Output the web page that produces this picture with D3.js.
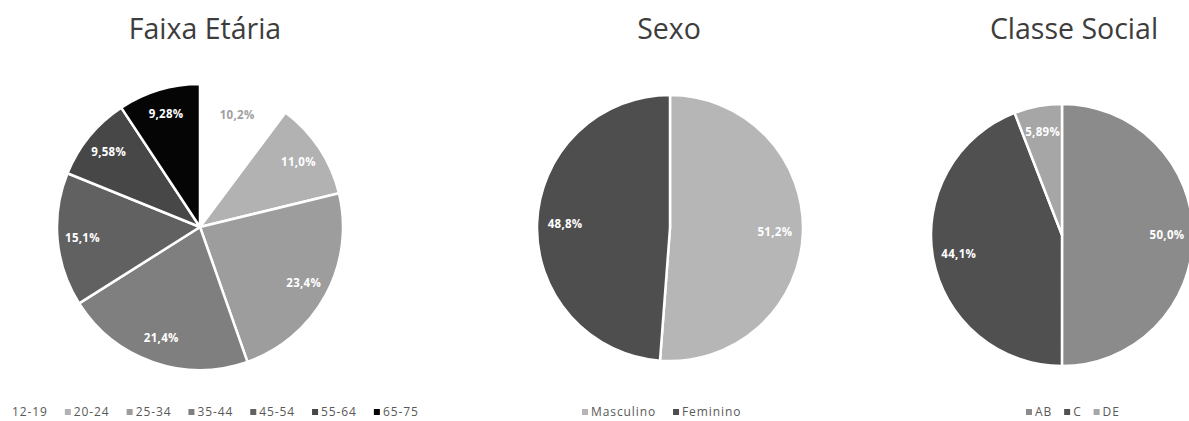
<!DOCTYPE html>
<html>
<head>
<meta charset="utf-8">
<script src="https://cdn.jsdelivr.net/npm/d3@7"></script>
<style>
  html, body { margin: 0; padding: 0; background: #fff; }
  svg { display: block; }
</style>
</head>
<body>
<svg id="chart" width="1189" height="421"></svg>
<script>
// ---- Data ----
const faixaCategories = ["12-19", "20-24", "25-34", "35-44", "45-54", "55-64", "65-75"];
const faixaValues = [10.2, 11.0, 23.4, 21.4, 15.1, 9.58, 9.28];
const faixaColors = ["#ffffff", "#b2b2b2", "#9d9d9d", "#7f7f7f", "#616161", "#474747", "#050505"];

const sexoCategories = ["Masculino", "Feminino"];
const sexoValues = [51.2, 48.8];
const sexoColors = ["#b6b6b6", "#4e4e4e"];

const classeCategories = ["AB", "C", "DE"];
const classeValues = [50.0, 44.1, 5.89];
const classeColors = ["#8b8b8b", "#505050", "#a6a6a6"];

const titles = ["Faixa Etária", "Sexo", "Classe Social"];

// ---- Drawing ----
const svg = d3.select("#chart");
const locale = d3.formatLocale({ decimal: ",", thousands: ".", grouping: [3], currency: ["", ""] });
const fmt = v => locale.format(".3r")(v) + "%";

function drawPie(opts) {
  const { cx, cy, r, values, colors, categories, title, titleX, legendX, legendGap, labelR, labelColors } = opts;
  const g = svg.append("g");

  g.append("text")
    .attr("x", titleX).attr("y", 39)
    .attr("text-anchor", "middle")
    .attr("font-family", "'Open Sans', sans-serif")
    .attr("font-size", 28.5)
    .attr("fill", "#3d3d3d")
    .text(title);

  const pie = d3.pie().sort(null).value(d => d)(values);
  const arc = d3.arc().innerRadius(0).outerRadius(r);
  const labelArc = d3.arc().innerRadius(labelR).outerRadius(labelR);

  const pg = g.append("g").attr("transform", `translate(${cx},${cy})`);
  pg.selectAll("path").data(pie).join("path")
    .attr("d", arc)
    .attr("fill", (d, i) => colors[i])
    .attr("stroke", "#fff")
    .attr("stroke-width", 2.5)
    .attr("stroke-linejoin", "round");

  pg.selectAll("text").data(pie).join("text")
    .attr("transform", d => `translate(${labelArc.centroid(d)})`)
    .attr("text-anchor", "middle")
    .attr("dy", "0.35em")
    .attr("font-family", "'Open Sans', sans-serif")
    .attr("font-weight", 700)
    .attr("font-size", 11.5)
    .attr("letter-spacing", 0.3)
    .attr("fill", (d, i) => labelColors ? labelColors[i] : "#fff")
    .text(d => fmt(d.data));

  // legend
  const lg = g.append("g").attr("transform", `translate(${legendX},412)`);
  let x = 0;
  categories.forEach((c, i) => {
    const item = lg.append("g").attr("transform", `translate(${x},0)`);
    item.append("rect")
      .attr("x", 0).attr("y", -3).attr("width", 6).attr("height", 6)
      .attr("fill", colors[i]);
    const t = item.append("text")
      .attr("x", 9).attr("y", 0).attr("dy", "0.35em")
      .attr("font-family", "'Open Sans', sans-serif")
      .attr("font-size", 12)
      .attr("letter-spacing", 0.9)
      .attr("fill", "#595959")
      .text(c);
    x += 9 + t.node().getComputedTextLength() + legendGap;
  });
}

drawPie({
  cx: 200, cy: 227, r: 143,
  values: faixaValues, colors: faixaColors, categories: faixaCategories,
  title: titles[0], titleX: 205, legendX: 3, legendGap: 17, labelR: 118,
  labelColors: ["#a0a0a0", "#fff", "#fff", "#fff", "#fff", "#fff", "#fff"]
});
drawPie({
  cx: 670, cy: 228, r: 133,
  values: sexoValues, colors: sexoColors, categories: sexoCategories,
  title: titles[1], titleX: 669, legendX: 582, legendGap: 17, labelR: 105
});
drawPie({
  cx: 1062, cy: 235, r: 131,
  values: classeValues, colors: classeColors, categories: classeCategories,
  title: titles[2], titleX: 1074, legendX: 1026, legendGap: 12, labelR: 105
});
</script>
</body>
</html>
